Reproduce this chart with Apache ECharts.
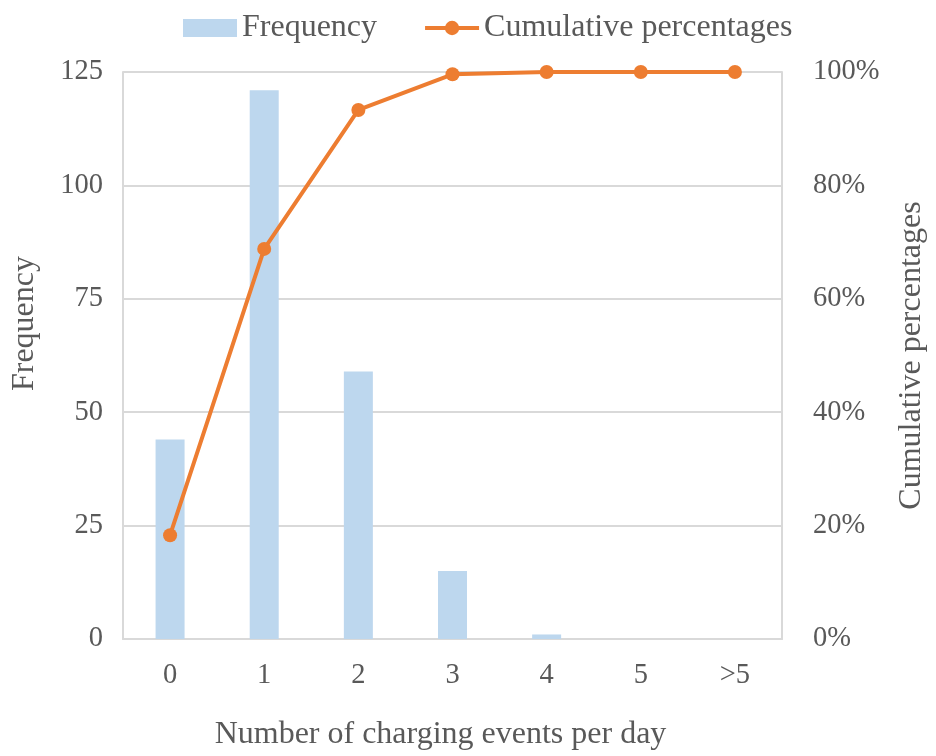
<!DOCTYPE html>
<html>
<head>
<meta charset="utf-8">
<script src="https://cdn.jsdelivr.net/npm/echarts@6/dist/echarts.min.js"></script>
<style>html,body{margin:0;padding:0;background:#fff}#c{width:936px;height:756px}</style>
</head>
<body>
<div id="c"></div>
<script>
const categories = ['0', '1', '2', '3', '4', '5', '>5'];
const frequency = [44, 121, 59, 15, 1, 0, 0];
const cumulativePct = [18.3, 68.8, 93.3, 99.6, 100, 100, 100];
const leftTicks = { min: 0, max: 125, interval: 25 };
const rightTicks = { min: 0, max: 100, interval: 20 };

const font = '"Liberation Serif", "Times New Roman", serif';
const txt = '#595959';
const grid = '#D9D9D9';

const chart = echarts.init(document.getElementById('c'), null, { renderer: 'canvas' });
chart.setOption({
  animation: false,
  textStyle: { fontFamily: font, color: txt },
  legend: {
    top: 7,
    left: 178,
    itemGap: 46,
    itemWidth: 54,
    itemHeight: 18,
    textStyle: { fontFamily: font, fontSize: 32, color: txt },
    data: [
      { name: 'Frequency', icon: 'rect' },
      { name: 'Cumulative percentages', lineStyle: { width: 4 } }
    ]
  },
  grid: { left: 123, right: 154, top: 72, bottom: 116 },
  xAxis: {
    type: 'category',
    data: categories,
    name: 'Number of charging events per day',
    nameLocation: 'middle',
    nameGap: 80,
    nameTextStyle: { fontFamily: font, fontSize: 32, color: txt, padding: [0, 24, 0, 0] },
    axisLine: { show: true, lineStyle: { color: grid, width: 2 } },
    axisTick: { show: false },
    axisLabel: { fontFamily: font, fontSize: 28.5, color: txt, margin: 22 }
  },
  yAxis: [
    {
      type: 'value',
      min: leftTicks.min, max: leftTicks.max, interval: leftTicks.interval,
      name: 'Frequency',
      nameLocation: 'middle',
      nameRotate: 90,
      nameGap: 82,
      nameTextStyle: { fontFamily: font, fontSize: 32, color: txt, padding: [0, 0, 0, 64] },
      axisLine: { show: true, lineStyle: { color: grid, width: 2 } },
      axisTick: { show: false },
      axisLabel: { fontFamily: font, fontSize: 28.5, color: txt, margin: 20 },
      splitLine: { show: true, lineStyle: { color: grid, width: 2 } }
    },
    {
      type: 'value',
      min: rightTicks.min, max: rightTicks.max, interval: rightTicks.interval,
      name: 'Cumulative percentages',
      nameLocation: 'middle',
      nameRotate: 90,
      nameGap: 114,
      nameTextStyle: { fontFamily: font, fontSize: 32, color: txt },
      axisLine: { show: true, lineStyle: { color: grid, width: 2 } },
      axisTick: { show: false },
      axisLabel: { fontFamily: font, fontSize: 28.5, color: txt, margin: 31, formatter: '{value}%' },
      splitLine: { show: false }
    }
  ],
  series: [
    {
      name: 'Frequency',
      type: 'bar',
      data: frequency,
      barWidth: 29,
      itemStyle: { color: '#BDD7EE' },
      yAxisIndex: 0
    },
    {
      name: 'Cumulative percentages',
      type: 'line',
      data: cumulativePct,
      yAxisIndex: 1,
      symbol: 'circle',
      symbolSize: 14,
      lineStyle: { color: '#ED7D31', width: 4 },
      itemStyle: { color: '#ED7D31' }
    }
  ]
});
</script>
</body>
</html>
